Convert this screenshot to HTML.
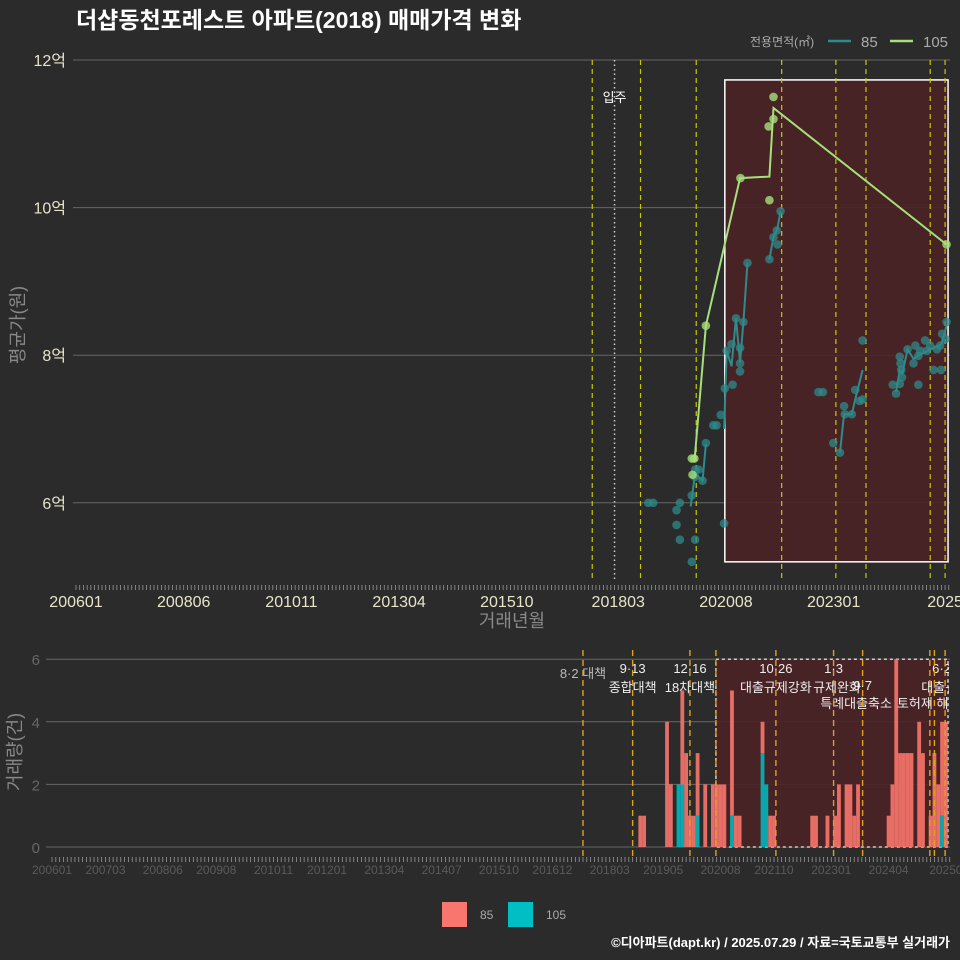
<!DOCTYPE html>
<html><head><meta charset="utf-8"><style>
html,body{margin:0;padding:0;background:#2b2b2b;}
svg{display:block;font-family:"Liberation Sans","Noto Sans CJK KR",sans-serif;}
</style></head><body>
<svg id="chart" width="960" height="960" viewBox="0 0 960 960">
<rect x="0" y="0" width="960" height="960" fill="#2b2b2b"/>
<text x="76" y="28" font-size="23" font-weight="bold" fill="#ffffff">더샵동천포레스트 아파트(2018) 매매가격 변화</text>
<g>
<text x="750" y="46" font-size="12" fill="#aaaaaa">전용면적(㎡)</text>
<line x1="828" y1="41" x2="851" y2="41" stroke="#2e8b8b" stroke-width="2.5"/>
<text x="861" y="47" font-size="15" fill="#aaaaaa">85</text>
<line x1="890" y1="41" x2="913" y2="41" stroke="#a6e07a" stroke-width="2.5"/>
<text x="923" y="47" font-size="15" fill="#aaaaaa">105</text>
</g>
<g id="topPanel"></g>
<g id="botPanel"></g>
<text x="512" y="627" font-size="18" fill="#888888" text-anchor="middle">거래년월</text>
<text transform="translate(24,325) rotate(-90)" font-size="18" fill="#888888" text-anchor="middle">평균가(원)</text>
<text transform="translate(21,752) rotate(-90)" font-size="18" fill="#888888" text-anchor="middle">거래량(건)</text>
<g>
<rect x="442" y="902" width="25" height="25" fill="#f8766d"/>
<text x="480" y="919" font-size="12" fill="#aaaaaa">85</text>
<rect x="508" y="902" width="25" height="25" fill="#00bfc4"/>
<text x="546" y="919" font-size="12" fill="#aaaaaa">105</text>
</g>
<text x="950" y="947" font-size="13" font-weight="bold" fill="#ffffff" text-anchor="end">©디아파트(dapt.kr) / 2025.07.29 / 자료=국토교통부 실거래가</text>
</svg>
<script>
// month index: 0 = 2006-01
const xTickMonths=[0,29,58,87,116,146,175,204,234];
const xTickLabels=["200601","200806","201011","201304","201510","201803","202008","202301","2025"];
const yTickValues=[6,8,10,12];
const yTickLabels=["6억","8억","10억","12억"];
const eventMonths=[139,152,167,190,204.6,212.7,230,234];
const moveInMonth=145;
const pts85M=[154.1,155.4,161.7,162.6,161.7,162.6,165.8,166.7,165.8,166.7,167.6,166.7,168.7,169.6,171.6,172.5,173.6,174.5,174.7,175.2,176.5,176.8,177.7,178.8,178.8,178.8,179.7,180.8,186.7,187.8,188.7,188.9,189.7,199.9,201.1,203.9,205.7,206.8,207,208.9,209.8,211.8,211,211.8,219.9,220.8,221.8,221.8,222,222.2,222.4,223.9,225.5,226,226.8,226.8,227.3,228.6,229.1,230,230.9,231.8,232.7,232.9,233.2,234.1,234.4];
const pts85V=[6.0,6.0,5.9,6.0,5.7,5.5,5.2,5.5,6.1,6.45,6.45,6.35,6.3,6.81,7.05,7.05,7.19,5.72,7.55,8.06,8.15,7.6,8.5,8.1,7.89,7.78,8.45,9.25,9.3,9.6,9.69,9.5,9.95,7.5,7.5,6.81,6.68,7.31,7.2,7.2,7.53,7.4,7.38,8.2,7.6,7.48,7.61,7.98,7.89,7.8,7.7,8.08,7.89,8.13,7.99,7.6,8.06,8.2,8.06,8.13,7.8,8.08,8.13,7.8,8.29,8.22,8.45];
const line85Segs=[
 [[165.5,5.95],[166.7,6.4],[168.7,6.3],[169.6,6.8]],
 [[174.5,7.0],[175.2,8.06],[176.5,7.85],[177.7,8.5],[178.8,7.9],[179.7,8.45],[180.8,9.25]],
 [[186.7,9.3],[187.8,9.6],[188.8,9.7],[189.7,9.95]],
 [[205.7,6.68],[206.8,7.2],[208.9,7.2],[209.8,7.4],[211.8,7.8]],
 [[220.8,7.5],[221.8,7.8],[222.5,7.75],[223.9,8.08],[225.5,7.95],[227,8.0],[229,8.05],[231,8.1],[233,8.15],[234.4,8.4]]
];
const pts105M=[165.8,166.5,166,169.6,178.9,186.7,186.5,187.8,187.8,234.4];
const pts105V=[6.6,6.6,6.38,8.4,10.4,10.1,11.1,11.2,11.5,9.5];
const line105M=[166.5,169.6,178.8,186.7,187.8,234.4];
const line105V=[6.55,8.4,10.4,10.42,11.35,9.5];
// volume
const barMonths=[154,155,161,162,164,165,166,167,168,169,171,173,174,175,176,178,179,180,186,187,188,189,199,200,203,205,206,208,209,210,211,219,220,221,222,223,224,225,227,228,230,231,232,233,234];
const count85=[1,1,4,2,0,3,3,1,1,2,2,2,2,2,2,4,1,1,1,0,1,1,1,1,1,1,2,2,2,1,2,1,2,6,3,3,3,3,4,3,1,3,2,3,4];
const count105=[0,0,0,0,2,2,0,0,0,1,0,0,0,0,0,1,0,0,3,2,0,0,0,0,0,0,0,0,0,0,0,0,0,0,0,0,0,0,0,0,0,0,0,1,0];
const botTickMonths=[0,14,29,43,58,72,87,102,117,131,146,160,175,189,204,219,234];
const botTickLabels=["200601","200703","200806","200908","201011","201201","201304","201407","201510","201612","201803","201905","202008","202110","202301","202404","20250"];
const botEventMonths=[139,152,167,173.8,189.5,204.6,212.2,229.8,231,233.8];
const evLabels=[[139,678,"8·2 대책","#bbbbbb"],[152,673,"9·13","#eeeeee"],[152,692,"종합대책","#eeeeee"],[167,673,"12·16","#eeeeee"],[167,692,"18차대책","#eeeeee"],[189.5,673,"10·26","#eeeeee"],[189.5,692,"대출규제강화","#eeeeee"],[204.6,673,"1·3","#eeeeee"],[205.5,692,"규제완화","#eeeeee"],[212.2,690,"9·7","#eeeeee"],[210.5,708,"특례대출축소","#eeeeee"],[229.5,708,"토허제 해제","#eeeeee"],[233.8,673,"6·27","#eeeeee"],[233.8,692,"대출규제","#eeeeee"]];

const NS="http://www.w3.org/2000/svg";
function mk(parent,tag,attrs){const e=document.createElementNS(NS,tag);for(const k in attrs)e.setAttribute(k,attrs[k]);parent.appendChild(e);return e;}
const xT=m=>76+m*3.714;
const yT=v=>60+(12-v)*73.8;
const xB=m=>52+m*3.82;
const yB=c=>847-c*31.3;

const topG=document.getElementById('topPanel');
const clip=mk(document.querySelector('svg'),'clipPath',{id:'cb'});
mk(clip,'rect',{x:46,y:650,width:903,height:210});
yTickValues.forEach((v,i)=>{
 const g=mk(topG,'line',{x1:73,x2:950,y1:yT(v),y2:yT(v),stroke:'#666','stroke-width':1});
 
 
 const t=mk(topG,'text',{x:66,y:yT(v)+6,'font-size':16,fill:'#e8e4c8','text-anchor':'end'});
 t.textContent=yTickLabels[i];
 
 
});
const box=mk(topG,'rect',{x:xT(174.7),y:yT(11.73),width:xT(234.8)-xT(174.7),height:yT(5.2)-yT(11.73),fill:'#4a2226','fill-opacity':0.9,stroke:'#ffffff','stroke-width':1.5});


for(let m=0;m<=235;m++){const l=mk(topG,'line',{x1:xT(m),x2:xT(m),y1:585,y2:590,stroke:'#999','stroke-width':0.8});
 
 }
xTickMonths.forEach((m,i)=>{
 const t=mk(topG,'text',{x:xT(m),y:607,'font-size':16,fill:'#e8e4c8','text-anchor':'middle'});
 t.textContent=xTickLabels[i];
 
 
});
eventMonths.forEach(m=>{
 const l=mk(topG,'line',{x1:xT(m),x2:xT(m),y1:60,y2:580,stroke:'#c8c800','stroke-width':1.2,'stroke-dasharray':'5,4'});
 
 
});
{const l=mk(topG,'line',{x1:xT(moveInMonth),x2:xT(moveInMonth),y1:60,y2:580,stroke:'#cccccc','stroke-width':1.5,'stroke-dasharray':'1.5,3'});
 
 
 const t=mk(topG,'text',{x:xT(moveInMonth),y:102,'font-size':13,fill:'#ffffff','text-anchor':'middle'});
 t.textContent='입주';
 
 }
pts85M.forEach((m,i)=>{
 const c=mk(topG,'circle',{cx:xT(m),cy:yT(pts85V[i]),r:4.3,fill:'#2e8b8b','fill-opacity':0.75});
 
 
});
line85Segs.forEach(seg=>{
 const p=mk(topG,'polyline',{points:seg.map(d=>xT(d[0])+','+yT(d[1])).join(' '),fill:'none',stroke:'#2e8b8b','stroke-width':2});
 
 
});
pts105M.forEach((m,i)=>{
 const c=mk(topG,'circle',{cx:xT(m),cy:yT(pts105V[i]),r:4.3,fill:'#a6e07a','fill-opacity':0.8});
 
 
});
{const p=mk(topG,'polyline',{points:line105M.map((m,i)=>xT(m)+','+yT(line105V[i])).join(' '),fill:'none',stroke:'#a6e07a','stroke-width':2});
 
 }

const botG=document.getElementById('botPanel');
[0,2,4,6].forEach(c=>{
 const g=mk(botG,'line',{x1:46,x2:950,y1:yB(c),y2:yB(c),stroke:'#666','stroke-width':1});
 
 
 const t=mk(botG,'text',{x:40,y:yB(c)+6,'font-size':15,fill:'#666','text-anchor':'end'});
 t.textContent=String(c);
 
 
});
{const b=mk(botG,'rect',{x:xB(173.8),y:yB(6),width:948-xB(173.8),height:yB(0)-yB(6),fill:'#4a2226','fill-opacity':0.9,stroke:'#cccccc','stroke-width':1.5,'stroke-dasharray':'3,3'});
 
 }
const bg=mk(botG,'g',{'clip-path':'url(#cb)'});
barMonths.forEach((m,i)=>{
 const t5=count105[i], t8=count85[i];
 if(t5>0){const r=mk(bg,'rect',{x:xB(m)-1.9,y:yB(t5),width:3.82,height:yB(0)-yB(t5),fill:'#00bfc4','fill-opacity':0.85});
  
  }
 if(t8>0){const r=mk(bg,'rect',{x:xB(m)-1.9,y:yB(t5+t8),width:3.82,height:yB(t5)-yB(t5+t8),fill:'#f8766d','fill-opacity':0.9});
  
  }
});
botEventMonths.forEach(m=>{
 const l=mk(botG,'line',{x1:xB(m),x2:xB(m),y1:650,y2:857,stroke:'#e0a020','stroke-width':1.4,'stroke-dasharray':'6,4'});
 
 
});
evLabels.forEach(d=>{
 const t=mk(bg,'text',{x:xB(d[0]),y:d[1],'font-size':13,fill:d[3],'text-anchor':'middle'});
 t.textContent=d[2];
 
 
});
for(let m=0;m<=235;m++){const l=mk(botG,'line',{x1:xB(m),x2:xB(m),y1:857,y2:862,stroke:'#999','stroke-width':0.8});
 
 }
botTickMonths.forEach((m,i)=>{
 const t=mk(botG,'text',{x:xB(m),y:874,'font-size':12,fill:'#5a5a5a','text-anchor':'middle'});
 t.textContent=botTickLabels[i];
 
 
});
</script>
</body></html>
